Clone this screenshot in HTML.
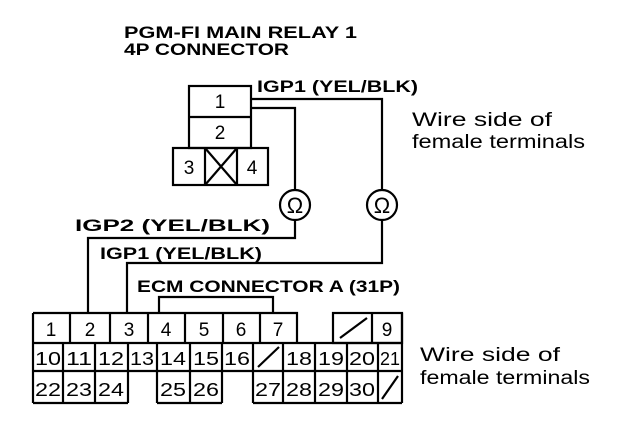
<!DOCTYPE html>
<html><head><style>body{margin:0;background:#fff}svg{display:block}</style></head><body>
<svg width="640" height="438" viewBox="0 0 640 438" xmlns="http://www.w3.org/2000/svg" font-family="Liberation Sans, sans-serif">
<g font-weight="bold" font-size="17" fill="#000">
<text x="124" y="38" textLength="233" lengthAdjust="spacingAndGlyphs">PGM-FI MAIN RELAY 1</text>
<text x="124" y="55" textLength="165" lengthAdjust="spacingAndGlyphs">4P CONNECTOR</text>
<text x="257" y="92" textLength="161" lengthAdjust="spacingAndGlyphs">IGP1 (YEL/BLK)</text>
<text x="75" y="231" textLength="195" lengthAdjust="spacingAndGlyphs">IGP2 (YEL/BLK)</text>
<text x="100" y="259" textLength="162" lengthAdjust="spacingAndGlyphs">IGP1 (YEL/BLK)</text>
<text x="137" y="292" textLength="263" lengthAdjust="spacingAndGlyphs">ECM CONNECTOR A (31P)</text>
</g>
<g font-size="19" fill="#000">
<text x="412" y="126" textLength="140" lengthAdjust="spacingAndGlyphs">Wire side of</text>
<text x="412" y="148" textLength="173" lengthAdjust="spacingAndGlyphs">female terminals</text>
<text x="420" y="361" textLength="140" lengthAdjust="spacingAndGlyphs">Wire side of</text>
<text x="420" y="384" textLength="170" lengthAdjust="spacingAndGlyphs">female terminals</text>
</g>
<g stroke="#000" stroke-width="2.2" fill="none">
<rect x="189" y="86" width="62" height="62"/>
<line x1="189" y1="117" x2="251" y2="117"/>
<rect x="173" y="148" width="95" height="37"/>
<line x1="205" y1="148" x2="205" y2="185"/>
<line x1="237" y1="148" x2="237" y2="185"/>
<line x1="205" y1="148" x2="237" y2="185"/>
<line x1="237" y1="148" x2="205" y2="185"/>
<polyline points="251,99 382,99 382,190"/>
<polyline points="382,220 382,263 127,263 127,313"/>
<polyline points="251,108 295,108 295,190"/>
<polyline points="295,220 295,238 88,238 88,313"/>
<circle cx="382" cy="205" r="15"/>
<circle cx="295" cy="205" r="15"/>
<polyline points="159,313 159,297 273,297 273,313"/>
<polyline points="33,313 297,313 297,343"/>
<rect x="333" y="313" width="69" height="30"/>
<line x1="372" y1="313" x2="372" y2="343"/>
<line x1="340" y1="338" x2="367" y2="318"/>
<line x1="33" y1="313" x2="33" y2="403"/>
<line x1="70" y1="313" x2="70" y2="343"/>
<line x1="110" y1="313" x2="110" y2="343"/>
<line x1="148" y1="313" x2="148" y2="343"/>
<line x1="185" y1="313" x2="185" y2="343"/>
<line x1="223" y1="313" x2="223" y2="343"/>
<line x1="260" y1="313" x2="260" y2="343"/>
<line x1="33" y1="343" x2="402" y2="343"/>
<line x1="33" y1="371" x2="402" y2="371"/>
<line x1="402" y1="313" x2="402" y2="403"/>
<line x1="63" y1="343" x2="63" y2="403"/>
<line x1="95" y1="343" x2="95" y2="403"/>
<line x1="128" y1="343" x2="128" y2="403"/>
<line x1="157" y1="343" x2="157" y2="403"/>
<line x1="190" y1="343" x2="190" y2="403"/>
<line x1="222" y1="343" x2="222" y2="403"/>
<line x1="253" y1="343" x2="253" y2="403"/>
<line x1="283" y1="343" x2="283" y2="403"/>
<line x1="315" y1="343" x2="315" y2="403"/>
<line x1="347" y1="343" x2="347" y2="403"/>
<line x1="378" y1="343" x2="378" y2="403"/>
<line x1="33" y1="403" x2="128" y2="403"/>
<line x1="157" y1="403" x2="222" y2="403"/>
<line x1="253" y1="403" x2="402" y2="403"/>
<line x1="258" y1="367" x2="279" y2="347"/>
<line x1="382" y1="399" x2="398" y2="376"/>
</g>
<g font-size="22" fill="#000" text-anchor="middle">
<text x="295" y="213">Ω</text>
<text x="382" y="213">Ω</text>
</g>
<g font-size="19" fill="#000" text-anchor="middle">
<text x="220" y="108">1</text>
<text x="220" y="139">2</text>
<text x="189" y="174">3</text>
<text x="252" y="174">4</text>
<text x="51" y="336">1</text><text x="90" y="336">2</text><text x="129" y="336">3</text>
<text x="166" y="336">4</text><text x="204" y="336">5</text><text x="241" y="336">6</text>
<text x="278" y="336">7</text><text x="387" y="336">9</text>
</g>
<g font-size="18" fill="#000" text-anchor="middle">
<text x="48" y="365" textLength="26" lengthAdjust="spacingAndGlyphs">10</text><text x="79" y="365" textLength="26" lengthAdjust="spacingAndGlyphs">11</text><text x="111" y="365" textLength="26" lengthAdjust="spacingAndGlyphs">12</text>
<text x="142" y="365" textLength="24" lengthAdjust="spacingAndGlyphs">13</text><text x="173" y="365" textLength="26" lengthAdjust="spacingAndGlyphs">14</text><text x="206" y="365" textLength="26" lengthAdjust="spacingAndGlyphs">15</text>
<text x="237" y="365" textLength="26" lengthAdjust="spacingAndGlyphs">16</text><text x="299" y="365" textLength="26" lengthAdjust="spacingAndGlyphs">18</text><text x="331" y="365" textLength="26" lengthAdjust="spacingAndGlyphs">19</text>
<text x="362" y="365" textLength="26" lengthAdjust="spacingAndGlyphs">20</text><text x="390" y="365" textLength="20" lengthAdjust="spacingAndGlyphs">21</text>
<text x="48" y="396" textLength="26" lengthAdjust="spacingAndGlyphs">22</text><text x="79" y="396" textLength="26" lengthAdjust="spacingAndGlyphs">23</text><text x="111" y="396" textLength="26" lengthAdjust="spacingAndGlyphs">24</text>
<text x="173" y="396" textLength="26" lengthAdjust="spacingAndGlyphs">25</text><text x="206" y="396" textLength="26" lengthAdjust="spacingAndGlyphs">26</text>
<text x="268" y="396" textLength="26" lengthAdjust="spacingAndGlyphs">27</text><text x="299" y="396" textLength="26" lengthAdjust="spacingAndGlyphs">28</text><text x="331" y="396" textLength="26" lengthAdjust="spacingAndGlyphs">29</text>
<text x="362" y="396" textLength="26" lengthAdjust="spacingAndGlyphs">30</text>
</g>
</svg>
</body></html>
